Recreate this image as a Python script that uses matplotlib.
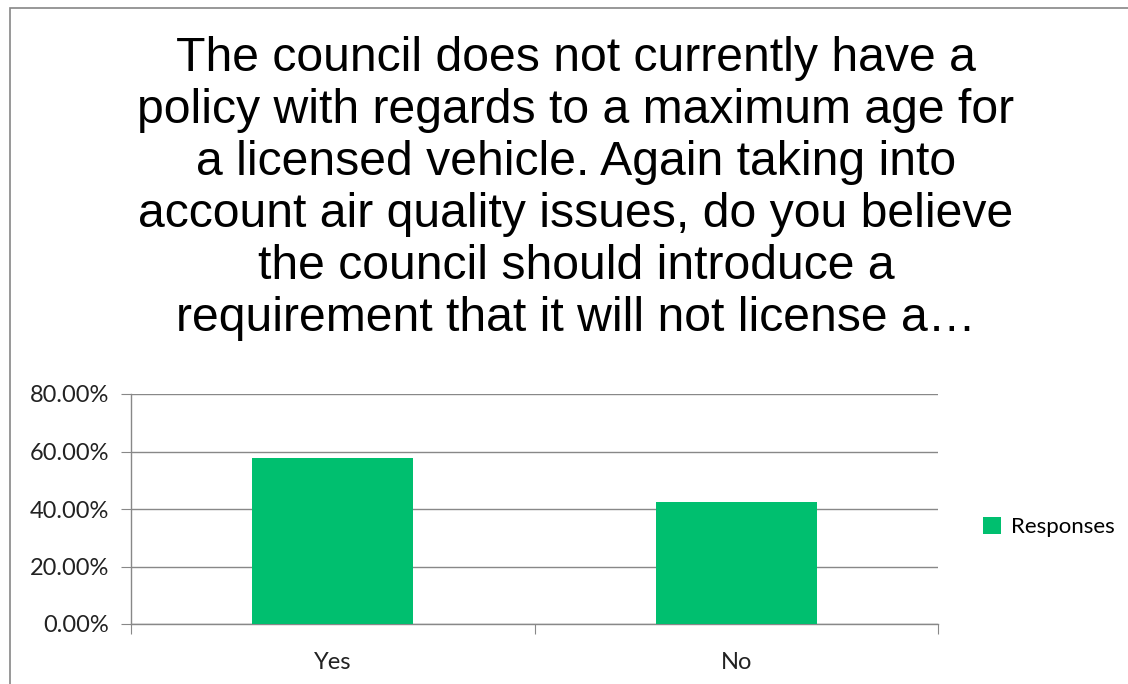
import matplotlib.pyplot as plt
from matplotlib.patches import Rectangle
from matplotlib.ticker import FuncFormatter

# Data
categories = ["Yes", "No"]
responses = [0.576, 0.424]
title = ("The council does not currently have a\n"
         "policy with regards to a maximum age for\n"
         "a licensed vehicle. Again taking into\n"
         "account air quality issues, do you believe\n"
         "the council should introduce a\n"
         "requirement that it will not license a…")

W, H = 1128, 684
fig = plt.figure(figsize=(W / 100, H / 100), dpi=100)

# outer chart border (top and left visible)
fig.add_artist(Rectangle((10 / W, -0.1), 1.2, (H - 8) / H + 0.1, transform=fig.transFigure,
                         fill=False, edgecolor="#868686", linewidth=1.2))

fig.text(576 / W, 1 - 36 / H, title, ha="center", va="top", fontsize=34.7,
         family="Liberation Sans", linespacing=1.2)

ax = fig.add_axes([131 / W, 1 - 624 / H, (938 - 131) / W, (624 - 394) / H])
x = range(len(categories))
bars = ax.bar(x, responses, width=0.4, color="#00BF6F", label="Responses", zorder=3)

ax.set_xlim(-0.5, 1.5)
ax.set_ylim(0, 0.8)
ax.set_yticks([0, 0.2, 0.4, 0.6, 0.8])
ax.yaxis.set_major_formatter(FuncFormatter(lambda v, p: f"{v * 100:.2f}%"))
ax.grid(axis="y", color="#888888", linewidth=1.0, zorder=0)

# x ticks at category boundaries, labels at centres
ax.set_xticks([-0.5, 0.5, 1.5])
ax.set_xticklabels([])
ax.set_xticks(list(x), minor=True)
ax.set_xticklabels(categories, minor=True)
ax.tick_params(axis="x", which="minor", length=0, pad=20, labelsize=17)
ax.tick_params(axis="x", which="major", length=7, color="#888888")
ax.tick_params(axis="y", length=7, color="#888888", labelsize=17, pad=9)
for lab in ax.get_xticklabels(minor=True) + ax.get_yticklabels():
    lab.set_family("Lato")
    lab.set_color("#222222")

for side in ["top", "right"]:
    ax.spines[side].set_visible(False)
for side in ["left", "bottom"]:
    ax.spines[side].set_color("#888888")
    ax.spines[side].set_linewidth(1.0)

leg = fig.legend(handles=[bars], labels=["Responses"], loc="center left",
                 bbox_to_anchor=(963 / W, 1 - 527 / H), frameon=False,
                 handlelength=0.8, handleheight=0.8, handletextpad=0.45,
                 prop={"family": "Lato", "size": 16})

fig.savefig("out.png", dpi=100)
